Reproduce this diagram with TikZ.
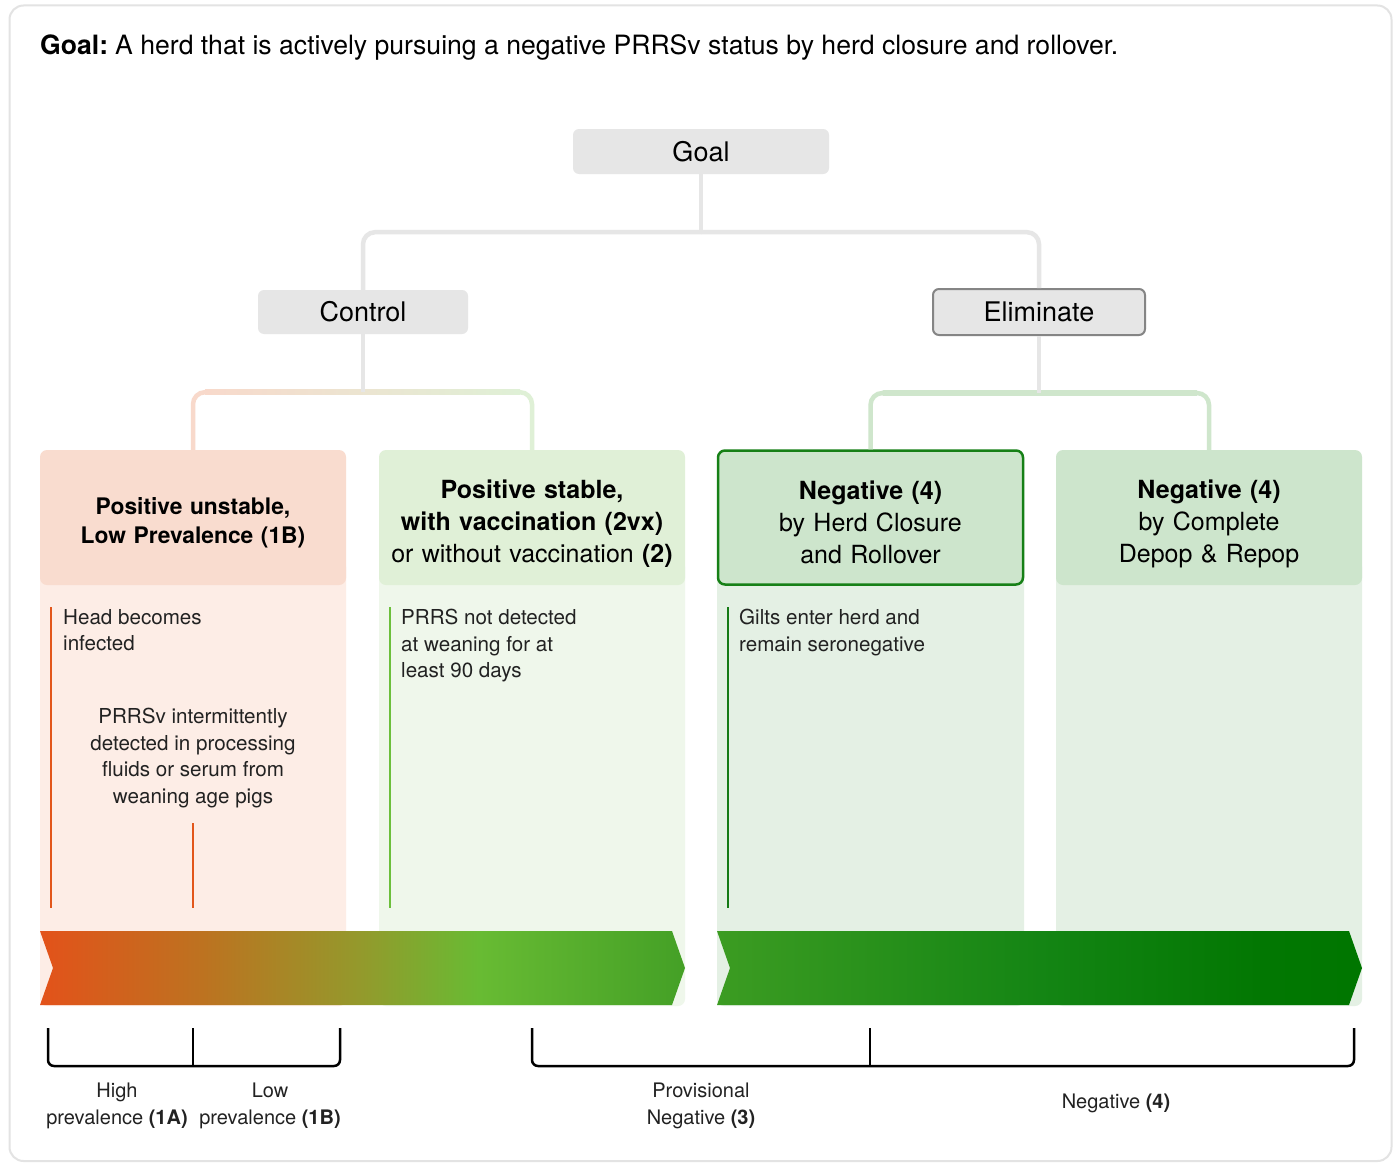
\documentclass[tikz,border=0pt]{standalone}
\usepackage{fontspec}
\setmainfont{TeX Gyre Heros}
\usetikzlibrary{calc}
\definecolor{framegray}{HTML}{E3E3E3}
\definecolor{boxgray}{HTML}{E6E6E6}
\definecolor{conngray}{HTML}{E6E6E6}
\definecolor{peachH}{HTML}{F9DCCF}
\definecolor{peachB}{HTML}{FDEDE6}
\definecolor{lgreenH}{HTML}{E0F0D7}
\definecolor{lgreenB}{HTML}{EFF7EB}
\definecolor{mgreenH}{HTML}{CDE5CC}
\definecolor{mgreenB}{HTML}{E4F0E4}
\definecolor{dgreenBorder}{HTML}{168016}
\definecolor{orangeLine}{HTML}{E2561B}
\definecolor{greenLineA}{HTML}{6CBF3C}
\definecolor{greenLineB}{HTML}{157A15}
\definecolor{connPeach}{HTML}{F8D9CB}
\definecolor{connLGreen}{HTML}{DFF0D6}
\definecolor{connGreen}{HTML}{CFE6CC}
\definecolor{elimBorder}{HTML}{858585}
\definecolor{txt}{HTML}{222222}
\definecolor{arAa}{HTML}{E3521A}
\definecolor{arAb}{HTML}{BD7220}
\definecolor{arAc}{HTML}{939A2C}
\definecolor{arAd}{HTML}{68BB33}
\definecolor{arAe}{HTML}{44A026}
\definecolor{arBa}{HTML}{3C9C22}
\definecolor{arBb}{HTML}{148514}
\definecolor{arBc}{HTML}{027702}
\definecolor{arBd}{HTML}{007600}
\pgfdeclarehorizontalshading{arrowA}{100bp}{color(0bp)=(arAa); color(25bp)=(arAa); color(37.5bp)=(arAb); color(50bp)=(arAc); color(59bp)=(arAd); color(75bp)=(arAe); color(100bp)=(arAe)}
\pgfdeclarehorizontalshading{arrowB}{100bp}{color(0bp)=(arBa); color(25bp)=(arBa); color(50bp)=(arBb); color(67bp)=(arBc); color(75bp)=(arBd); color(100bp)=(arBd)}
\tikzset{
  graybox/.style={fill=boxgray, rounded corners=6, inner sep=0pt, text=black, font=\fontsize{27}{32}\selectfont},
  conn/.style={draw=conngray, line width=4.5, rounded corners=12},
  hdr/.style={rounded corners=7, inner sep=0pt, minimum width=306, minimum height=135},
  hdrtext/.style={inner sep=0pt, text=black, text width=300, align=center, font=\fontsize{25}{32}\selectfont},
  hdrsmall/.style={font=\fontsize{22.8}{29}\selectfont},
  bodytext/.style={inner sep=0pt, text=txt, font=\fontsize{20.6}{26.5}\selectfont},
  bar/.style={line width=2.5},
  brk/.style={draw=black, line width=2.5, rounded corners=6},
  lbl/.style={inner sep=0pt, text=txt, align=center, font=\fontsize{20}{27}\selectfont}
}
\begin{document}
\begin{tikzpicture}[x=1pt,y=-1pt]
\useasboundingbox (0,0) rectangle (1395,1164);
\fill[white] (0,0) rectangle (1395,1164);
\draw[framegray, line width=2, rounded corners=14] (9.5,5.5) rectangle (1391.5,1161);

% title
\node[anchor=west, inner sep=0pt, text=black, font=\fontsize{26.6}{30}\selectfont] (title) at (40,47.5) {\textbf{Goal:}\kern7pt A herd that is actively pursuing a negative PRRSv status by herd closure and rollover.};

% top boxes
\node[graybox, minimum width=256, minimum height=45] (goal) at (701,151.5) {Goal};
\node[graybox, minimum width=210, minimum height=44] (control) at (363,312) {Control};
\node[graybox, draw=elimBorder, line width=2, minimum width=212, minimum height=46] (elim) at (1039,312) {Eliminate};

% column bodies
\fill[peachB, rounded corners=7] (40,560) rectangle (346,1006);
\fill[lgreenB, rounded corners=7] (379,560) rectangle (685,1006);
\fill[mgreenB, rounded corners=7] (717,560) rectangle (1024,1006);
\fill[mgreenB, rounded corners=7] (1056,560) rectangle (1362,1006);

% headers
\node[hdr, fill=peachH] (col1) at (193,517.5) {};
\node[hdr, fill=lgreenH] (col2) at (532,517.5) {};
\node[hdr, fill=mgreenH, draw=dgreenBorder, line width=2.5, minimum width=305, minimum height=134] (col3) at (870.5,517.5) {};
\node[hdr, fill=mgreenH] (col4) at (1209,517.5) {};
\node[hdrtext, hdrsmall] (col1t) at ($(col1.center)+(0,5)$) {\textbf{Positive unstable,}\\\textbf{Low Prevalence (1B)}};
\node[hdrtext] (col2t) at ($(col2.center)+(0,6)$) {\textbf{Positive stable,}\\\textbf{with vaccination (2vx)}\\or without vaccination \textbf{(2)}};
\node[hdrtext] (col3t) at ($(col3.center)+(0,5)$) {\textbf{Negative (4)}\\by Herd Closure\\and Rollover};
\node[hdrtext] (col4t) at ($(col4.center)+(0,6)$) {\textbf{Negative (4)}\\by Complete\\Depop \& Repop};

% connectors
\coordinate (gj) at ($(goal.south)+(0,58)$);
\draw[conn] (gj) -| (control.north);
\draw[conn] (gj) -| (elim.north);
\draw[conn, rounded corners=0] (goal.south) -- (gj);

\coordinate (cj) at ($(control.south)+(0,58)$);
\draw[conn, draw=connPeach] (cj) -| (col1.north);
\draw[conn, draw=connLGreen] (cj) -| (col2.north);
\shade[left color=connPeach, middle color=conngray, right color=connLGreen] ($(col1.north |- cj)+(12,-2.25)$) rectangle ($(col2.north |- cj)+(-12,2.25)$);
\draw[conn, rounded corners=0] (control.south) -- (cj);

\coordinate (ej) at ($(elim.south)+(0,57)$);
\draw[conn, draw=connGreen] (ej) -| (col3.north);
\draw[conn, draw=connGreen] (ej) -| (col4.north);
\shade[left color=connGreen, middle color=conngray, right color=connGreen] ($(col3.north |- ej)+(12,-2.25)$) rectangle ($(col4.north |- ej)+(-12,2.25)$);
\draw[conn, rounded corners=0] (elim.south) -- (ej);

% body bars and texts
\draw[bar, orangeLine] (51,607) -- (51,908);
\draw[bar, orangeLine] (193,823) -- (193,908);
\draw[bar, greenLineA] (390,607) -- (390,908);
\draw[bar, greenLineB] (728,607) -- (728,908);

\node[bodytext, anchor=north west, align=left] (t1) at (63,609) {Head becomes\\infected};
\node[bodytext, anchor=north, align=center] (t1b) at (193,708) {PRRSv intermittently\\detected in processing\\fluids or serum from\\weaning age pigs};
\node[bodytext, anchor=north west, align=left] (t2) at (401,609) {PRRS not detected\\at weaning for at\\least 90 days};
\node[bodytext, anchor=north west, align=left] (t3) at (739,609) {Gilts enter herd and\\remain seronegative};

% arrows
\shade[shading=arrowA] (40,931) -- (672,931) -- (685,968) -- (672,1005) -- (40,1005) -- (53,968) -- cycle;
\shade[shading=arrowB] (717,931) -- (1349,931) -- (1362,968) -- (1349,1005) -- (717,1005) -- (730,968) -- cycle;

% brackets
\draw[brk] (48,1028) |- (340,1066) -- (340,1028);
\draw[brk, rounded corners=0] (193,1028) -- (193,1066);
\draw[brk] (532,1028) |- (1354,1066) -- (1354,1028);
\draw[brk, rounded corners=0] (870,1028) -- (870,1066);

\node[lbl] (l1) at (117,1105.5) {High\\prevalence \textbf{(1A)}};
\node[lbl] (l2) at (270,1105.5) {Low\\prevalence \textbf{(1B)}};
\node[lbl] (l3) at (701,1105.5) {Provisional\\Negative \textbf{(3)}};
\node[lbl] (l4) at (1116,1103.5) {Negative \textbf{(4)}};
\end{tikzpicture}
\end{document}
